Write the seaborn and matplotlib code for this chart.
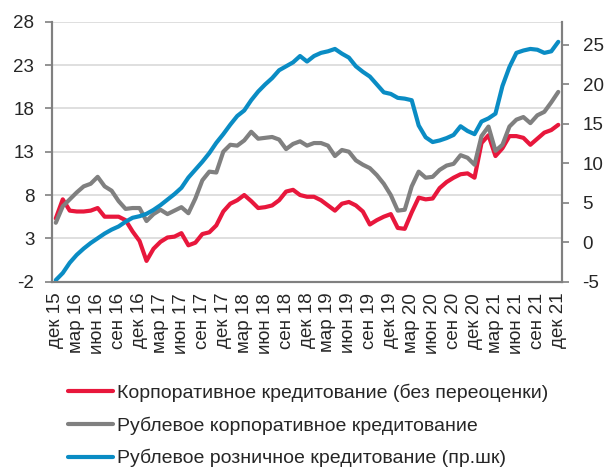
import matplotlib
matplotlib.use("Agg")
import matplotlib.pyplot as plt
import seaborn as sns
import numpy as np
import pandas as pd

# --- chart data (monthly, Dec 2015 .. Dec 2021) ---
MONTHS = ["дек", "янв", "фев", "мар", "апр", "май", "июн", "июл", "авг", "сен", "окт", "ноя"]
START_YEAR = 15

corp_total = [5.3, 7.5, 6.2, 6.1, 6.1, 6.2, 6.5, 5.5, 5.5, 5.5, 5.1, 3.8,
              2.7, 0.4, 1.8, 2.6, 3.1, 3.2, 3.6, 2.2, 2.5, 3.5, 3.7, 4.5,
              6.1, 7.0, 7.4, 8.0, 7.3, 6.5, 6.6, 6.8, 7.4, 8.4, 8.6, 8.0,
              7.8, 7.8, 7.4, 6.8, 6.2, 7.0, 7.2, 6.8, 6.1, 4.6, 5.1, 5.5,
              5.8, 4.2, 4.1, 6.0, 7.7, 7.5, 7.6, 8.8, 9.5, 10.0, 10.4, 10.5,
              10.0, 14.0, 14.9, 12.5, 13.4, 14.8, 14.8, 14.6, 13.8, 14.5, 15.2, 15.5,
              16.1]
corp_rub = [4.8, 6.7, 7.5, 8.3, 9.0, 9.3, 10.1, 9.0, 8.5, 7.3, 6.4, 6.5,
            6.5, 5.0, 5.8, 6.3, 5.8, 6.2, 6.6, 5.9, 7.6, 9.7, 10.7, 10.6,
            13.0, 13.8, 13.7, 14.3, 15.3, 14.5, 14.6, 14.7, 14.4, 13.3, 13.9, 14.2,
            13.7, 14.0, 14.0, 13.7, 12.5, 13.2, 13.0, 12.0, 11.5, 11.1, 10.3, 9.3,
            8.0, 6.2, 6.3, 9.0, 10.7, 10.0, 10.1, 10.9, 11.4, 11.6, 12.6, 12.3,
            11.5, 14.8, 15.9, 13.1, 13.8, 15.9, 16.7, 17.0, 16.3, 17.2, 17.6, 18.7,
            19.9]
retail_rub = [-4.8, -3.9, -2.6, -1.6, -0.8, -0.1, 0.5, 1.1, 1.6, 2.0, 2.6, 3.1,
              3.3, 3.6, 4.1, 4.7, 5.4, 6.1, 6.9, 8.2, 9.2, 10.2, 11.3, 12.6,
              13.7, 14.9, 16.0, 16.7, 18.0, 19.1, 20.0, 20.8, 21.8, 22.3, 22.8, 23.6,
              22.9, 23.6, 24.0, 24.2, 24.5, 23.9, 23.4, 22.3, 21.6, 21.0, 20.0, 19.0,
              18.8, 18.3, 18.2, 18.0, 14.8, 13.3, 12.7, 12.9, 13.2, 13.6, 14.7, 14.1,
              13.7, 15.3, 15.7, 16.3, 19.8, 22.2, 24.0, 24.3, 24.5, 24.4, 24.0, 24.2,
              25.4]

labels = ["Корпоративное кредитование (без переоценки)",
          "Рублевое корпоративное кредитование",
          "Рублевое розничное кредитование (пр.шк)"]
colors = ["#E8173C", "#808080", "#0A8CC4"]

n = len(corp_total)
month_labels = [f"{MONTHS[i % 12]} {START_YEAR + (i + 11) // 12}" for i in range(n)]

df = pd.DataFrame({"idx": np.arange(n), "corp": corp_total,
                   "corp_rub": corp_rub, "retail": retail_rub})

sns.set_style("white")
plt.rcParams["font.family"] = ["Liberation Sans", "DejaVu Sans"]
plt.rcParams["axes.unicode_minus"] = False

fig = plt.figure(figsize=(6.06, 4.67), dpi=100)
ax = fig.add_axes([0.0863, 0.3968, 0.8407, 0.5567])
ax2 = ax.twinx()

sns.lineplot(data=df, x="idx", y="corp", ax=ax, color=colors[0], lw=3, label=labels[0], legend=False)
sns.lineplot(data=df, x="idx", y="corp_rub", ax=ax, color=colors[1], lw=3, label=labels[1], legend=False)
sns.lineplot(data=df, x="idx", y="retail", ax=ax2, color=colors[2], lw=3, label=labels[2], legend=False)

ax.set_xlim(-0.5, n - 0.5)
ax.set_ylim(-2, 28)
ax2.set_ylim(-5, 27.95)
ax.set_yticks(np.arange(-2, 29, 5))
ax2.set_yticks(np.arange(-5, 26, 5))
ax.yaxis.grid(True, color="#d9d9d9", lw=1.2)
ax.set_axisbelow(True)

# labels centred on categories, tick marks on category boundaries
pos = list(range(0, n, 3))
ax.set_xticks(pos, [month_labels[i] for i in pos], rotation=90)
ax.set_xticks(np.arange(-0.5, n - 0.5, 3), minor=True)
ax.tick_params(axis="x", which="major", length=0, pad=8, labelsize=13.5)
ax.tick_params(axis="x", which="minor", length=5, width=1.2, color="#808080", direction="out")
ax.tick_params(axis="y", length=5, width=1.2, color="#808080", pad=8, labelsize=13.5, left=True)
ax2.tick_params(axis="y", length=5, width=1.2, color="#808080", pad=10, labelsize=13.5, right=True)

ax.set_xlabel("")
ax.set_ylabel("")
ax2.set_ylabel("")
for a in (ax, ax2):
    a.spines["top"].set_visible(False)
    for s in ("left", "right", "bottom"):
        a.spines[s].set_color("#808080")
        a.spines[s].set_linewidth(1.5)

handles = ax.get_lines()[:2] + ax2.get_lines()[:1]
fig.legend(handles, labels, loc="upper left", bbox_to_anchor=(0.1, 0.195),
           frameon=False, fontsize=14, handlelength=2.3, handletextpad=0.2,
           labelspacing=0.74, borderaxespad=0)

fig.savefig("out.png", dpi=100)
